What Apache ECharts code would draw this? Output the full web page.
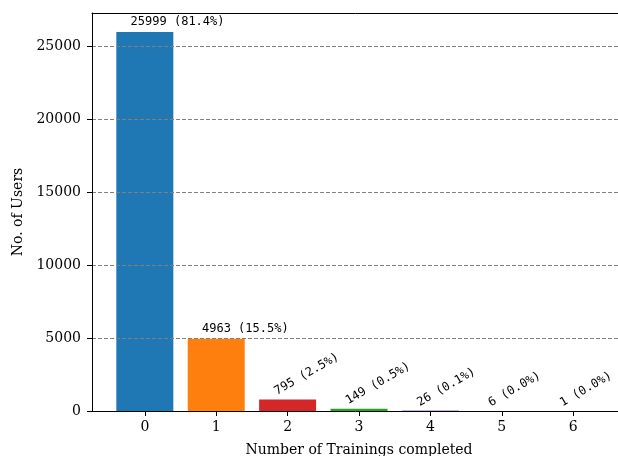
<!DOCTYPE html>
<html>
<head>
<meta charset="utf-8">
<script src="https://cdn.jsdelivr.net/npm/echarts@6/dist/echarts.min.js"></script>
<style>
  html, body { margin: 0; padding: 0; background: #fff; }
  #chart { width: 618px; height: 456px; }
</style>
</head>
<body>
<div id="chart"></div>
<script>
// Number of trainings each user completed, and how many users fall in each bucket
const trainings = [0, 1, 2, 3, 4, 5, 6];
const users = [25999, 4963, 795, 149, 26, 6, 1];
const barColors = ['#1f77b4', '#ff7f0e', '#d62728', '#2ca02c', '#9467bd', '#8c564b', '#e377c2'];
const yTicks = [0, 5000, 10000, 15000, 20000, 25000];

const total = users.reduce((a, b) => a + b, 0);
const pct = v => (v / total * 100).toFixed(1);

const serif = 'DejaVu Serif';
const mono = 'DejaVu Sans Mono';

// x range padded like a default bar plot: bars 0.8 wide plus 5% margins
const xMin = -0.4 - 0.05 * 6.8;
const xMax = 6.4 + 0.05 * 6.8;
const yMax = Math.max(...users) * 1.05;
const barPx = 57;

const data = users.map((v, i) => {
  const tilted = v / total < 0.05;
  return {
    value: [trainings[i], v],
    itemStyle: { color: barColors[i] },
    label: {
      show: true,
      // anchored a quarter of the bar width in from its left edge, just above the top;
      // small bars get their label tilted so neighbours don't collide
      position: tilted ? [barPx / 4 + 5, -2] : [barPx / 4, -4],
      align: 'left',
      verticalAlign: 'bottom',
      rotate: tilted ? 30 : 0,
      formatter: `${v} (${pct(v)}%)`,
      fontFamily: mono,
      fontSize: 12,
      color: '#000'
    }
  };
});

const chart = echarts.init(document.getElementById('chart'), null, { renderer: 'canvas' });
chart.setOption({
  animation: false,
  backgroundColor: '#fff',
  grid: { left: 92, top: 13, width: 534, bottom: 45, containLabel: false, outerBoundsMode: 'none' },
  xAxis: [{
    type: 'value',
    min: xMin,
    max: xMax,
    name: 'Number of Trainings completed',
    nameLocation: 'middle',
    nameGap: 32,
    nameTextStyle: { fontFamily: serif, fontSize: 14, color: '#000' },
    axisLine: { show: true, onZero: false, lineStyle: { color: '#000', width: 1 } },
    axisTick: { show: true, length: 5, customValues: trainings, lineStyle: { color: '#000' } },
    axisLabel: { customValues: trainings, margin: 9, fontFamily: serif, fontSize: 14, color: '#000',
      formatter: v => String(Math.round(v)) },
    splitLine: { show: false },
    z: 10
  }, {
    type: 'value',
    position: 'top',
    min: xMin,
    max: xMax,
    axisLine: { show: true, onZero: false, lineStyle: { color: '#000', width: 1 } },
    axisTick: { show: false },
    axisLabel: { show: false },
    splitLine: { show: false },
    z: 11
  }],
  yAxis: {
    type: 'value',
    min: 0,
    max: yMax,
    interval: 5000,
    name: 'No. of Users',
    nameLocation: 'middle',
    nameGap: 64,
    nameTextStyle: { fontFamily: serif, fontSize: 14, color: '#000' },
    axisLine: { show: true, onZero: false, lineStyle: { color: '#000', width: 1 } },
    axisTick: { show: true, length: 5, customValues: yTicks, lineStyle: { color: '#000' } },
    axisLabel: { customValues: yTicks, margin: 11, fontFamily: serif, fontSize: 14, color: '#000',
      formatter: v => String(Math.round(v)) },
    splitLine: { show: true, lineStyle: { color: '#808080', width: 1, type: [4, 2] } },
    z: 10
  },
  series: [{
    type: 'bar',
    xAxisIndex: 0,
    barWidth: barPx,
    data: data,
    z: 1
  }]
});
</script>
</body>
</html>
